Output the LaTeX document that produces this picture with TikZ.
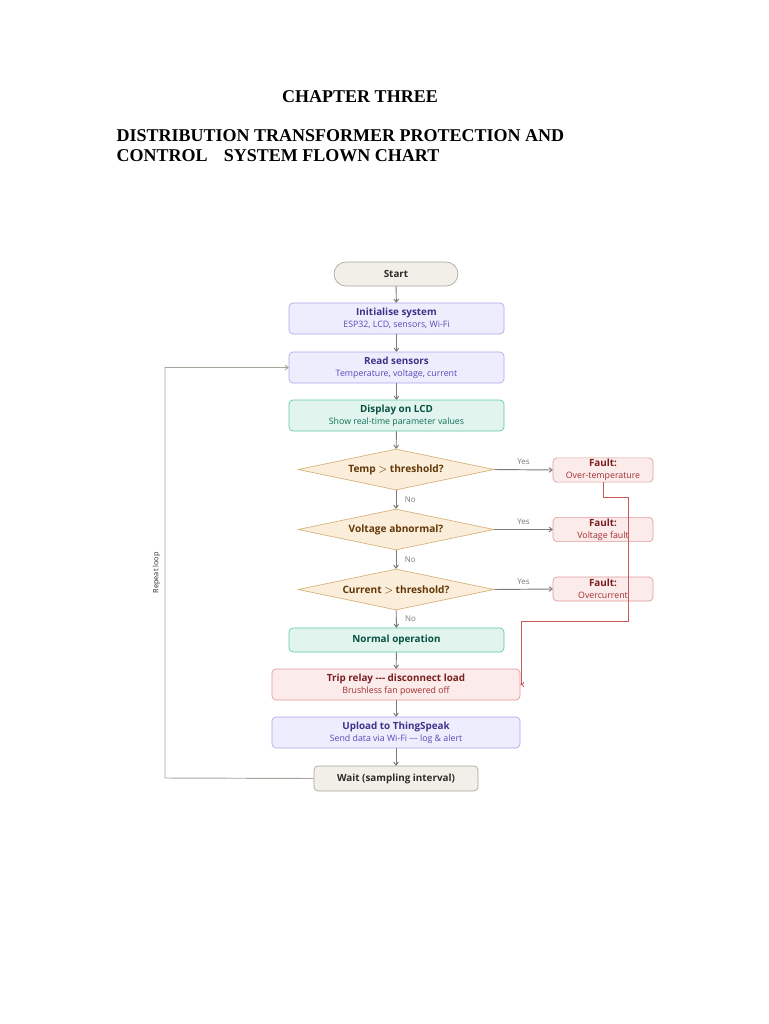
\documentclass[tikz,border=0pt]{standalone}
\usepackage{fontspec}
\setmainfont{Liberation Serif}
\newfontfamily\chartfont{Open Sans}
\usetikzlibrary{shapes.geometric,arrows.meta}
\definecolor{grayfill}{HTML}{F1EFE8}
\definecolor{grayline}{HTML}{A8A59C}
\definecolor{graytext}{HTML}{2C2C2A}
\definecolor{purfill}{HTML}{EEEDFE}
\definecolor{purline}{HTML}{AFA9EC}
\definecolor{purtext}{HTML}{3C3489}
\definecolor{pursub}{HTML}{534AB7}
\definecolor{grnfill}{HTML}{E1F5EE}
\definecolor{grnline}{HTML}{5DCAA5}
\definecolor{grntext}{HTML}{085041}
\definecolor{grnsub}{HTML}{0F6E56}
\definecolor{ambfill}{HTML}{FAEEDA}
\definecolor{ambline}{HTML}{D8B27A}
\definecolor{ambtext}{HTML}{633806}
\definecolor{redfill}{HTML}{FCEBEB}
\definecolor{redline}{HTML}{E29A9A}
\definecolor{redtext}{HTML}{791F1F}
\definecolor{redsub}{HTML}{A32D2D}
\definecolor{redarrow}{HTML}{C8585A}
\definecolor{arrowgray}{HTML}{7A7A76}
\newcommand{\hdf}{\bfseries\fontsize{7.4}{9}\selectfont}
\newcommand{\subl}[1]{\\{\mdseries\fontsize{6.6}{9}\selectfont #1}}
\tikzset{
  box/.style={rectangle, rounded corners=3pt, draw, line width=0.5pt, align=center, inner sep=1pt, font=\chartfont\fontsize{7.4}{9}\selectfont},
  pillbox/.style={rectangle, rounded corners=9pt, draw=grayline, fill=grayfill, line width=0.5pt, font=\chartfont\hdf, text=graytext},
  purbox/.style={box, draw=purline, fill=purfill, text=purtext},
  grnbox/.style={box, draw=grnline, fill=grnfill, text=grntext},
  redbox/.style={box, draw=redline, fill=redfill, text=redtext},
  graybox/.style={box, draw=grayline, fill=grayfill, text=graytext},
  decision/.style={diamond, aspect=4.8, draw=ambline, fill=ambfill, line width=0.5pt, inner sep=0pt, text=ambtext, font=\chartfont\bfseries\fontsize{7.6}{9}\selectfont, minimum width=147pt, minimum height=30.75pt},
  flow/.style={draw=arrowgray, line width=0.7pt, -{To[length=3pt,width=4pt]}},
  faultflow/.style={draw=redarrow, line width=0.6pt, -{To[length=3pt,width=4pt]}},
  lbl/.style={font=\chartfont\fontsize{6}{7}\selectfont, text=arrowgray},
  ttl/.style={font=\bfseries\fontsize{13.5}{16}\selectfont},
}
\begin{document}
\begin{tikzpicture}[x=0.75pt,y=-0.75pt]
\useasboundingbox (0,0) rectangle (768,1024);
\fill[white] (0,0) rectangle (768,1024);
% titles
\node[ttl] (ch) at (360,97) {CHAPTER THREE};
\node[ttl, anchor=west] (t1) at (112,136) {DISTRIBUTION TRANSFORMER PROTECTION AND};
\node[ttl, anchor=west] (t2) at (112,156) {CONTROL\hspace{0.9em}SYSTEM FLOWN CHART};
% nodes
\node[pillbox, minimum width=93pt, minimum height=18pt] (start) at (396,274) {Start};
\node[purbox, minimum width=161.25pt, minimum height=23.25pt] (init) at (396.5,318.5) {{\hdf Initialise system}\subl{\color{pursub}ESP32, LCD, sensors, Wi-Fi}};
\node[purbox, minimum width=161.25pt, minimum height=23.25pt] (read) at (396.5,367.5) {{\hdf Read sensors}\subl{\color{pursub}Temperature, voltage, current}};
\node[grnbox, minimum width=161.25pt, minimum height=23.25pt] (lcd) at (396.5,415.5) {{\hdf Display on LCD}\subl{\color{grnsub}Show real-time parameter values}};
\node[decision] (d1) at (396,469.5) {Temp $>$ threshold?};
\node[decision] (d2) at (396,529.5) {Voltage abnormal?};
\node[decision] (d3) at (396,589.5) {Current $>$ threshold?};
\node[redbox, minimum width=75pt, minimum height=18pt] (f1) at (603,470) {{\hdf Fault:}\subl{\color{redsub}Over-temperature}};
\node[redbox, minimum width=75pt, minimum height=18pt] (f2) at (603,529.5) {{\hdf Fault:}\subl{\color{redsub}Voltage fault}};
\node[redbox, minimum width=75pt, minimum height=18pt] (f3) at (603,589) {{\hdf Fault:}\subl{\color{redsub}Overcurrent}};
\node[grnbox, minimum width=161.25pt, minimum height=18pt] (normal) at (396.5,640) {\hdf Normal operation};
\node[redbox, minimum width=186pt, minimum height=23.25pt] (trip) at (396,684.5) {{\hdf Trip relay --- disconnect load}\subl{\color{redsub}Brushless fan powered off}};
\node[purbox, minimum width=186pt, minimum height=23.25pt] (upload) at (396,732.5) {{\hdf Upload to ThingSpeak}\subl{\color{pursub}Send data via Wi-Fi --- log \& alert}};
\node[graybox, minimum width=123pt, minimum height=18.75pt, font=\chartfont\hdf] (wait) at (396,778.5) {Wait (sampling interval)};
% main flow
\draw[flow] (start) -- (init);
\draw[flow] (init) -- (read);
\draw[flow] (read) -- (lcd);
\draw[flow] (lcd) -- (d1);
\draw[flow] (d1) -- node[lbl, right, xshift=3pt] {No} (d2);
\draw[flow] (d2) -- node[lbl, right, xshift=3pt] {No} (d3);
\draw[flow] (d3) -- node[lbl, right, xshift=3pt] {No} (normal);
\draw[flow] (normal) -- (trip);
\draw[flow] (trip) -- (upload);
\draw[flow] (upload) -- (wait);
% yes branches
\draw[flow] (d1.east) -- node[lbl, above, pos=0.5] {Yes} (f1.west);
\draw[flow] (d2.east) -- node[lbl, above, pos=0.5] {Yes} (f2.west);
\draw[flow] (d3.east) -- node[lbl, above, pos=0.5] {Yes} (f3.west);
% fault to trip
\coordinate (r1) at (628,497);
\coordinate (r2) at (521,621);
\draw[faultflow] (f1.south) |- (r1) |- (r2) |- (trip.east);
% repeat loop
\coordinate (lp) at (165,778);
\draw[flow, draw=grayline] (wait.west) -- (lp) |- (read.west) node[pos=0.25, rotate=90, above, font=\chartfont\fontsize{5.5}{6}\selectfont, text=graytext] {Repeat loop};
\end{tikzpicture}
\end{document}
